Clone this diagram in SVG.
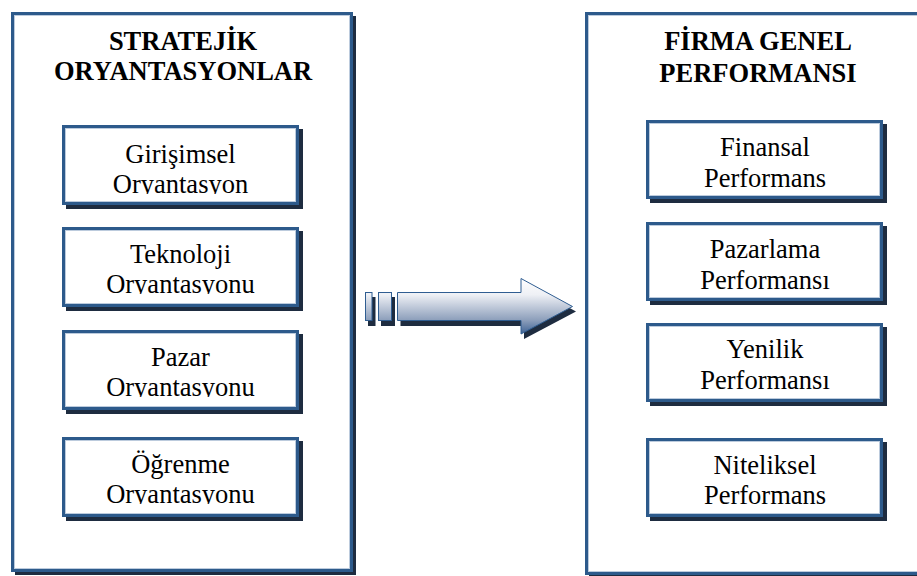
<svg xmlns="http://www.w3.org/2000/svg" width="917" height="576" viewBox="0 0 917 576">
  <style>
    .frame { fill: #ffffff; stroke: #2d5a8b; stroke-width: 3; }
    .hl { fill: none; stroke: #bccbdd; stroke-width: 1; }
    .shadow { fill: #1e2c40; }
    .title { font-weight: bold; font-size: 26.5px; fill: #000000; text-anchor: middle; }
    .label { font-size: 26.5px; fill: #000000; text-anchor: middle; }
    .arrow { fill: url(#arrowFill); stroke: #2f5d91; stroke-width: 1; }
    .arrowShadow { fill: #1e2c40; }
  </style>
  <defs>
    <linearGradient id="arrowFill" gradientUnits="userSpaceOnUse" x1="0" y1="278" x2="0" y2="334">
      <stop offset="0" stop-color="#ffffff"/>
      <stop offset="0.3" stop-color="#eef0f5"/>
      <stop offset="0.75" stop-color="#8d9fbb"/>
      <stop offset="1" stop-color="#3d6194"/>
    </linearGradient>
    <!-- the text frames cut the second line just below its baseline -->
    <clipPath id="cutL1"><rect x="64" y="127" width="233" height="67"/></clipPath>
    <clipPath id="cutL2"><rect x="64" y="229" width="233" height="65"/></clipPath>
    <clipPath id="cutL3"><rect x="64" y="332" width="233" height="65"/></clipPath>
    <clipPath id="cutL4"><rect x="64" y="439" width="233" height="65"/></clipPath>
  </defs>

  <g font-family="Liberation Serif, DejaVu Serif, serif">
  <!-- left panel -->
  <g id="strategic-orientations">
    <rect class="shadow" x="15" y="16" width="341" height="559"/>
    <rect class="frame" x="12.5" y="13.5" width="339" height="557"/>
    <rect class="hl" x="14.5" y="15.5" width="335" height="553"/>
    <text class="title" x="183" y="50">STRATEJİK</text>
    <text class="title" x="183" y="80">ORYANTASYONLAR</text>
  </g>

  <g id="girisimsel">
    <rect class="shadow" x="66" y="129" width="237" height="80"/>
    <rect class="frame" x="63.5" y="126.5" width="234" height="77"/>
    <rect class="hl" x="65.5" y="128.5" width="230" height="73"/>
    <text class="label" x="180.5" y="163">Girişimsel</text>
    <text class="label" x="180.5" y="193" clip-path="url(#cutL1)">Oryantasyon</text>
  </g>

  <g id="teknoloji">
    <rect class="shadow" x="66" y="231" width="237" height="80"/>
    <rect class="frame" x="63.5" y="228.5" width="234" height="77"/>
    <rect class="hl" x="65.5" y="230.5" width="230" height="73"/>
    <text class="label" x="180.5" y="263">Teknoloji</text>
    <text class="label" x="180.5" y="293" clip-path="url(#cutL2)">Oryantasyonu</text>
  </g>

  <g id="pazar">
    <rect class="shadow" x="66" y="334" width="237" height="80"/>
    <rect class="frame" x="63.5" y="331.5" width="234" height="77"/>
    <rect class="hl" x="65.5" y="333.5" width="230" height="73"/>
    <text class="label" x="180.5" y="366">Pazar</text>
    <text class="label" x="180.5" y="396" clip-path="url(#cutL3)">Oryantasyonu</text>
  </g>

  <g id="ogrenme">
    <rect class="shadow" x="66" y="441" width="237" height="80"/>
    <rect class="frame" x="63.5" y="438.5" width="234" height="77"/>
    <rect class="hl" x="65.5" y="440.5" width="230" height="73"/>
    <text class="label" x="180.5" y="473">Öğrenme</text>
    <text class="label" x="180.5" y="503" clip-path="url(#cutL4)">Oryantasyonu</text>
  </g>

  <!-- right panel -->
  <g id="firm-performance">
    <rect class="shadow" x="589" y="16" width="340" height="563"/>
    <rect class="frame" x="586.5" y="13.5" width="340" height="560"/>
    <rect class="hl" x="588.5" y="15.5" width="336" height="556"/>
    <text class="title" x="758" y="50">FİRMA GENEL</text>
    <text class="title" x="758" y="82">PERFORMANSI</text>
  </g>

  <g id="finansal">
    <rect class="shadow" x="650" y="124" width="237" height="79"/>
    <rect class="frame" x="647.5" y="121.5" width="234" height="76"/>
    <rect class="hl" x="649.5" y="123.5" width="230" height="72"/>
    <text class="label" x="765" y="156">Finansal</text>
    <text class="label" x="765" y="187">Performans</text>
  </g>

  <g id="pazarlama">
    <rect class="shadow" x="650" y="226" width="237" height="79"/>
    <rect class="frame" x="647.5" y="223.5" width="234" height="76"/>
    <rect class="hl" x="649.5" y="225.5" width="230" height="72"/>
    <text class="label" x="765" y="258">Pazarlama</text>
    <text class="label" x="765" y="289">Performansı</text>
  </g>

  <g id="yenilik">
    <rect class="shadow" x="650" y="327" width="237" height="79"/>
    <rect class="frame" x="647.5" y="324.5" width="234" height="76"/>
    <rect class="hl" x="649.5" y="326.5" width="230" height="72"/>
    <text class="label" x="765" y="358">Yenilik</text>
    <text class="label" x="765" y="389">Performansı</text>
  </g>

  <g id="niteliksel">
    <rect class="shadow" x="650" y="442" width="237" height="79"/>
    <rect class="frame" x="647.5" y="439.5" width="234" height="76"/>
    <rect class="hl" x="649.5" y="441.5" width="230" height="72"/>
    <text class="label" x="765" y="474">Niteliksel</text>
    <text class="label" x="765" y="504">Performans</text>
  </g>
  </g>

  <!-- connector: striped block arrow between the panels -->
  <g id="connectors">
    <g transform="translate(3 5)">
      <rect class="arrowShadow" x="365" y="292" width="7.5" height="29"/>
      <rect class="arrowShadow" x="378" y="292" width="14" height="29"/>
      <path class="arrowShadow" d="M397.5 292 H521 V278 L573 306.5 L521 334 V321 H397.5 Z"/>
    </g>
    <rect class="arrow" x="365.5" y="292.5" width="6.5" height="28"/>
    <rect class="arrow" x="378.5" y="292.5" width="13" height="28"/>
    <path class="arrow" d="M397.5 292.5 H521 V278.5 L572.5 306.5 L521 334 V320.5 H397.5 Z"/>
  </g>
</svg>
